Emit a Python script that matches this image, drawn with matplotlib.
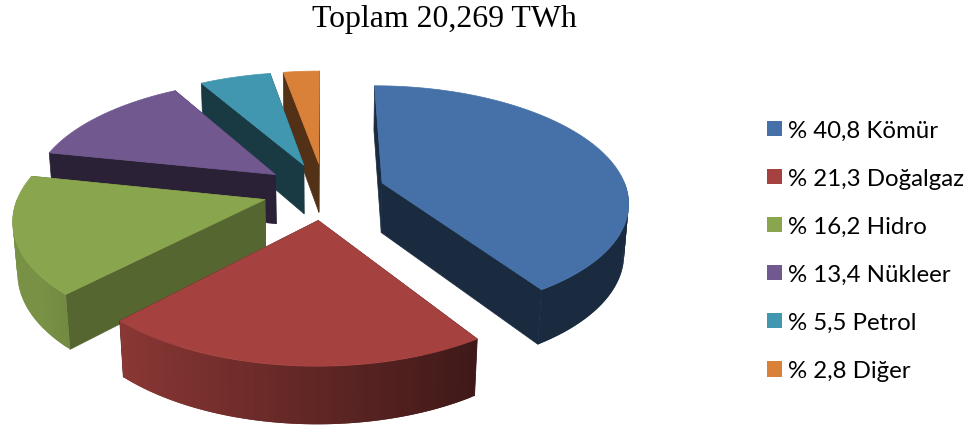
import numpy as np
import matplotlib
matplotlib.use("Agg")
import matplotlib.pyplot as plt
from matplotlib.patches import Polygon, Patch

# Electricity generation shares by source
title = "Toplam 20,269 TWh"
sources = ["Kömür", "Doğalgaz", "Hidro", "Nükleer", "Petrol", "Diğer"]
shares = [40.8, 21.3, 16.2, 13.4, 5.5, 2.8]
top_colors = ["#4571A8", "#A5423F", "#89A54E", "#71588F", "#4197AF", "#DA8139"]

# Projection of the tilted, exploded pie onto pixel coordinates
CX, CY = 324.0, 192.0
RX, RY = 245.0, 114.0
PERSPECTIVE = 0.15
BASE_SCALE = 0.015
DEPTH = 50.7
EXPLODE = 0.25


def project(pu, pv, lower=False):
    s = 1.0 / (1.0 + PERSPECTIVE * pv + (BASE_SCALE if lower else 0.0))
    x = CX + RX * pu * s
    y = CY - RY * pv * s + (DEPTH * s if lower else 0.0)
    return x, y


def shade(color, f):
    return tuple(np.clip(np.array(matplotlib.colors.to_rgb(color)) * f, 0, 1))


def rim_factor(t):
    # Rim lighting falls off from left to right around the pie
    return float(np.clip(0.38 + (0.546 - np.sin(t)) * 0.37, 0.38, 0.88))


def add_face(ax, pts, color, edge=0.5):
    ax.add_patch(Polygon(pts, closed=True, facecolor=color,
                         edgecolor=color if edge else "none",
                         linewidth=edge, joinstyle="round"))


def draw_wedge(ax, start, stop, color):
    mid = (start + stop) / 2
    ou, ov = EXPLODE * np.sin(mid), EXPLODE * np.cos(mid)
    n = max(int(np.degrees(stop - start)), 4)
    ts = np.linspace(start, stop, n + 1)
    pu, pv = ou + np.sin(ts), ov + np.cos(ts)

    # Straight cut faces running from the apex to each end of the arc
    dark = shade(color, 0.38 if color != "#89A54E" else 0.62)
    for end in (0, -1):
        add_face(ax, [project(ou, ov), project(pu[end], pv[end]),
                      project(pu[end], pv[end], True), project(ou, ov, True)], dark)

    # Outer rim on the side facing the viewer; each strip reaches under the next
    for i in range(n):
        tm = (ts[i] + ts[i + 1]) / 2
        if np.cos(tm) > 0:
            continue
        j = min(i + 2, n)
        add_face(ax, [project(pu[k], pv[k]) for k in range(i, j + 1)]
                 + [project(pu[k], pv[k], True) for k in range(j, i - 1, -1)],
                 shade(color, rim_factor(tm)), edge=0)

    # Flat upper surface
    top = [project(ou, ov)] + [project(a, b) for a, b in zip(pu, pv)]
    add_face(ax, top, color)


fig = plt.figure(figsize=(9.77, 4.31), dpi=100)
ax = fig.add_axes([0, 0, 1, 1])
ax.set_xlim(0, 977)
ax.set_ylim(431, 0)
ax.axis("off")

edges = np.radians(np.concatenate([[0], np.cumsum(shares)]) * 3.6)

# Painted back to front so nearer slices overlap the farther ones
for idx in [5, 4, 3, 2, 0, 1]:
    draw_wedge(ax, edges[idx], edges[idx + 1], top_colors[idx])

ax.text(444, 19, title, ha="center", va="center", fontsize=22.9,
        family="Liberation Serif", color="black")

fs = 17.3
fs_px = fs * 100 / 72
handles = [Patch(facecolor=c, edgecolor="none") for c in top_colors]
labels = [f"% {str(v).replace('.', ',')} {s}" for v, s in zip(shares, sources)]
ax.legend(handles, labels, loc="upper left", bbox_to_anchor=(767, 121),
          bbox_transform=ax.transData, frameon=False,
          prop={"family": "Lato", "size": fs},
          borderpad=0, borderaxespad=0,
          handlelength=15 / fs_px, handleheight=15 / fs_px,
          handletextpad=6 / fs_px, labelspacing=1.125,
          labelcolor="black")

fig.savefig("out.png", dpi=100)
